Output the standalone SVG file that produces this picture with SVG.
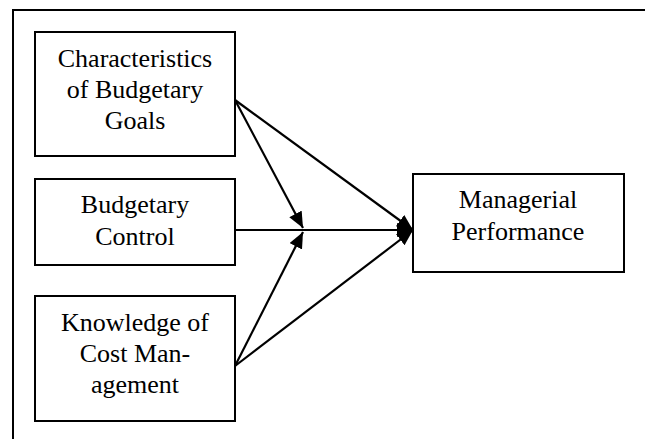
<svg xmlns="http://www.w3.org/2000/svg" width="645" height="439" viewBox="0 0 645 439">
<defs>
<style>
.box{fill:#fff;stroke:#000;stroke-width:2}
.t{font-family:"Liberation Serif","Times New Roman",serif;font-size:26px;fill:#000;text-anchor:middle}
.c{stroke:#000;stroke-width:2.2;fill:none}
.frame{stroke:#000;stroke-width:2;fill:none}
</style>
<marker id="ah" markerUnits="userSpaceOnUse" markerWidth="18" markerHeight="16" refX="16" refY="7" orient="auto">
<path d="M0,0 L16,7 L0,14 Z" fill="#000"/>
</marker>
</defs>
<path class="frame" d="M13,439 L13,10 L645,10"/>
<g id="connectors">
<line class="c" x1="235" y1="100" x2="303" y2="228" marker-end="url(#ah)"/>
<line class="c" x1="235" y1="100" x2="413" y2="230" marker-end="url(#ah)"/>
<line class="c" x1="235" y1="230" x2="413" y2="230" marker-end="url(#ah)"/>
<line class="c" x1="235" y1="366" x2="303" y2="232" marker-end="url(#ah)"/>
<line class="c" x1="235" y1="366" x2="413" y2="230" marker-end="url(#ah)"/>
</g>
<g id="goals">
<rect class="box" x="35" y="32" width="200" height="124"/>
<text class="t" x="135" y="67">Characteristics</text>
<text class="t" x="135" y="98">of Budgetary</text>
<text class="t" x="135" y="129">Goals</text>
</g>
<g id="control">
<rect class="box" x="35" y="179" width="200" height="86"/>
<text class="t" x="135" y="213">Budgetary</text>
<text class="t" x="135" y="245">Control</text>
</g>
<g id="knowledge">
<rect class="box" x="35" y="296" width="200" height="125"/>
<text class="t" x="135" y="331">Knowledge of</text>
<text class="t" x="135" y="362">Cost Man-</text>
<text class="t" x="135" y="393">agement</text>
</g>
<g id="performance">
<rect class="box" x="413" y="174" width="211" height="98"/>
<text class="t" x="518" y="208">Managerial</text>
<text class="t" x="518" y="240">Performance</text>
</g>
</svg>
